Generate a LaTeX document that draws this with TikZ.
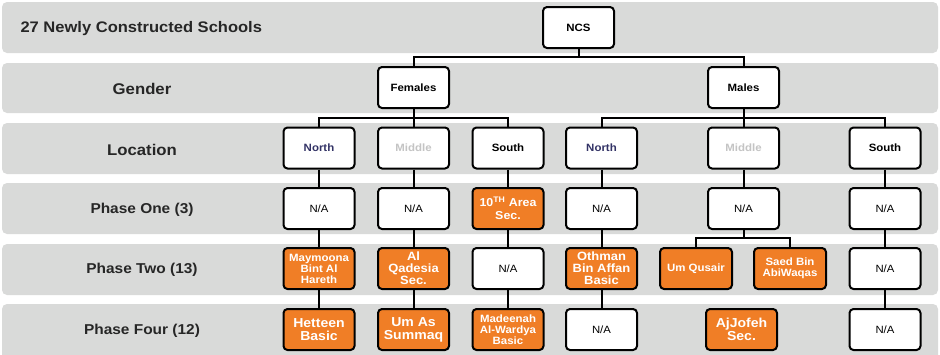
\documentclass[tikz,border=0pt]{standalone}
\usepackage{fontspec}
\setmainfont[FakeStretch=1.08]{Liberation Sans}
\definecolor{band}{HTML}{D9DAD9}
\definecolor{orng}{HTML}{F07E26}
\definecolor{navy}{HTML}{333366}
\definecolor{midgray}{HTML}{C4C4C4}
\begin{document}
\begin{tikzpicture}[x=1pt,y=-1pt,
  bandbox/.style={fill=band, draw=none, rounded corners=5pt},
  rowlabel/.style={font=\bfseries\fontsize{14.3}{16}\selectfont, text=black!85},
  wbox/.style={draw=black, line width=2pt, fill=white, rounded corners=4pt,
    minimum width=71pt, minimum height=41pt, inner sep=1pt, align=center,
    font=\bfseries\fontsize{10.6}{12}\selectfont},
  nabox/.style={wbox, font=\fontsize{10.5}{12}\selectfont},
  obox/.style={wbox, fill=orng, text=white, font=\bfseries\fontsize{10.6}{11}\selectfont},
  obig/.style={obox, font=\bfseries\fontsize{13}{13}\selectfont},
  link/.style={line width=2pt, draw=black}]
\useasboundingbox (0,0) rectangle (940,354);
\begin{scope}
\clip (0,0) rectangle (940,354);
\fill[bandbox] (2,2) rectangle (938,53);
\fill[bandbox] (2,63) rectangle (938,113);
\fill[bandbox] (2,123) rectangle (938,174);
\fill[bandbox] (2,183) rectangle (938,234);
\fill[bandbox] (2,244) rectangle (938,295);
\fill[bandbox] (2,304) rectangle (938,364);
\end{scope}

\node[anchor=west, font=\bfseries\fontsize{15.3}{17}\selectfont, text=black!85] (title) at (17,29) {27 Newly Constructed Schools};
\node[rowlabel, font=\bfseries\fontsize{15.5}{17}\selectfont] (lg) at (142,89) {Gender};
\node[rowlabel, font=\bfseries\fontsize{15.5}{17}\selectfont] (ll) at (142,149.5) {Location};
\node[rowlabel] (lp1) at (142,209.5) {Phase One (3)};
\node[rowlabel] (lp2) at (142,270) {Phase Two (13)};
\node[rowlabel] (lp4) at (142,330.5) {Phase Four (12)};

% tree
\node[wbox] (ncs) at (578.5,27.5) {NCS};
\node[wbox] (fem) at (413.5,87.5) {Females};
\node[wbox] (mal) at (743.5,87.5) {Males};

\node[wbox, text=navy] (fn) at (319,148) {North};
\node[wbox, text=midgray] (fm) at (413.5,148) {Middle};
\node[wbox] (fs) at (508,148) {South};
\node[wbox, text=navy] (mn) at (601.5,148) {North};
\node[wbox, text=midgray] (mm) at (743.5,148) {Middle};
\node[wbox] (ms) at (885,148) {South};

\node[nabox] (fn1) at (319,208.5) {N/A};
\node[nabox] (fm1) at (413.5,208.5) {N/A};
\node[obox, font=\bfseries\fontsize{11.5}{13}\selectfont] (fs1) at (508,208.5) {10\textsuperscript{TH} Area\\Sec.};
\node[nabox] (mn1) at (601.5,208.5) {N/A};
\node[nabox] (mm1) at (743.5,208.5) {N/A};
\node[nabox] (ms1) at (885,208.5) {N/A};

\node[obox] (fn2) at (319,268.5) {Maymoona\\Bint Al\\Hareth};
\node[obox, font=\bfseries\fontsize{12}{12}\selectfont] (fm2) at (413.5,268.5) {Al\\Qadesia\\Sec.};
\node[nabox] (fs2) at (508,268.5) {N/A};
\node[obox, font=\bfseries\fontsize{12}{12}\selectfont] (mn2) at (601.5,268.5) {Othman\\Bin Affan\\Basic};
\node[obox, minimum width=72pt] (mma) at (696,268.5) {Um Qusair};
\node[obox, minimum width=72pt] (mmb) at (790,268.5) {Saed Bin\\AbiWaqas};
\node[nabox] (ms2) at (885,268.5) {N/A};

\node[obig] (fn4) at (319,329.5) {Hetteen\\Basic};
\node[obig] (fm4) at (413.5,329.5) {Um As\\Summaq};
\node[obox] (fs4) at (508,329.5) {Madeenah\\Al-Wardya\\Basic};
\node[nabox] (mn4) at (601.5,329.5) {N/A};
\node[obig] (mm4) at (741.5,329.5) {AjJofeh\\Sec.};
\node[nabox] (ms4) at (885,329.5) {N/A};

% connectors
\draw[link] (ncs.south) -- ++(0,8) coordinate (j0) -| (fem.north);
\draw[link] (j0) -| (mal.north);
\draw[link] (fem.south) -- ++(0,9) coordinate (j1) -| (fn.north);
\draw[link] (j1) -| (fs.north);
\draw[link] (j1) -- (fm.north);
\draw[link] (mal.south) -- ++(0,9) coordinate (j2) -| (mn.north);
\draw[link] (j2) -| (ms.north);
\draw[link] (j2) -- (mm.north);

\foreach \c in {fn,fm,fs,mn,mm,ms}{\draw[link] (\c.south) -- (\c1.north);}
\foreach \c in {fn,fm,fs,mn,ms}{\draw[link] (\c1.south) -- (\c2.north);}
\foreach \c in {fn,fm,fs,mn,ms}{\draw[link] (\c2.south) -- (\c4.north);}
\draw[link] (mm1.south) -- ++(0,8) coordinate (j3) -| (mma.north);
\draw[link] (j3) -| (mmb.north);
\end{tikzpicture}
\end{document}
